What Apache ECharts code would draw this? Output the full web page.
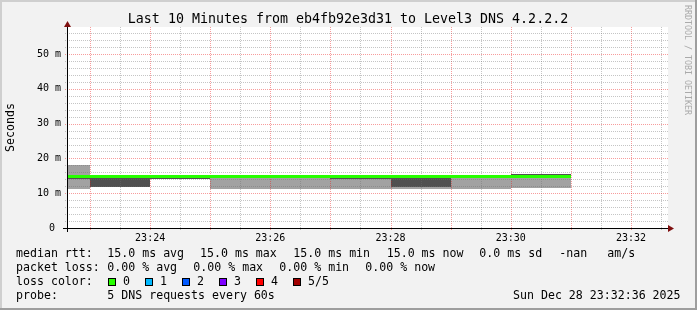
<!DOCTYPE html>
<html><head><meta charset="utf-8">
<script src="https://cdn.jsdelivr.net/npm/echarts@6/dist/echarts.min.js"></script>
<style>html,body{margin:0;padding:0;background:#f2f2f2}#c{width:697px;height:310px}</style>
</head><body><div id="c"></div>
<script>
// ---------- data ----------
const TITLE = 'Last 10 Minutes from eb4fb92e3d31 to Level3 DNS 4.2.2.2';
const T_START = 84157;  // 23:22:37 (seconds of day)
const T_END = 84757;    // 23:32:37
const Y_MAX = 57.8;     // ms
// 60 s smokeping steps
const stepStart = [84120, 84180, 84240, 84300, 84360, 84420, 84480, 84540, 84600];
const stepEnd   = [84180, 84240, 84300, 84360, 84420, 84480, 84540, 84600, 84660];
// outer smoke band (ms)
const smokeLow  = [11.1, 11.7, 14.1, 11.1, 11.1, 11.1, 11.1, 11.1, 11.5];
const smokeHigh = [18.2, 14.4, 14.4, 14.4, 14.4, 14.4, 14.4, 14.5, 15.25];
// inner (dark) smoke band (ms)
const coreLow   = [14.1, 11.7, 14.1, 14.4, 14.4, 14.1, 11.7, 14.5, 15.25];
const coreHigh  = [14.4, 14.4, 14.4, 14.4, 14.4, 14.4, 14.4, 14.5, 15.6];
// median rtt (ms)
const medianRtt = [14.82, 14.82, 14.82, 14.82, 14.82, 14.82, 14.82, 14.82, 14.82];

// axes / ticks
const yTickValues = [0, 10, 20, 30, 40, 50];
const yTickLabels = ['0 ', '10 m', '20 m', '30 m', '40 m', '50 m'];
const yMinorValues = [2,4,6,8,12,14,16,18,22,24,26,28,32,34,36,38,42,44,46,48,52,54,56];
const xMajorTimes = [84180, 84240, 84300, 84360, 84420, 84480, 84540, 84600, 84660, 84720];
const xMinorTimes = [84210, 84270, 84330, 84390, 84450, 84510, 84570, 84630, 84690, 84750];
const xLabelTimes = [84240, 84360, 84480, 84600, 84720];
const xLabelTexts = ['23:24', '23:26', '23:28', '23:30', '23:32'];

// legend
const rttStats  = ['15.0 ms avg', '15.0 ms max', '15.0 ms min', '15.0 ms now', '0.0 ms sd', '-nan', 'am/s'];
const lossStats = ['0.00 % avg', '0.00 % max', '0.00 % min', '0.00 % now'];
const lossLabels = ['0', '1', '2', '3', '4', '5/5'];
const lossColors = ['#26ff00', '#00b8ff', '#0059ff', '#7e00ff', '#ff0000', '#a10000'];
const probeText = '5 DNS requests every 60s';
const stampText = 'Sun Dec 28 23:32:36 2025';

// ---------- styling ----------
const FONT = '"DejaVu Sans Mono", monospace';
const SMOKE_LIGHT = '#a2a2a2';
const SMOKE_DARK = '#505050';
const MINOR_GRID = 'rgba(110,110,110,0.4)';
const MAJOR_GRID = 'rgba(235,20,20,0.42)';

const chart = echarts.init(document.getElementById('c'), null, {renderer: 'canvas', width: 697, height: 310});

function clampT(t) { return Math.min(T_END, Math.max(T_START, t)); }
const empty = () => ({type: 'group', children: []});

function bandRender(color) {
  return function (params, api) {
    const t0 = clampT(api.value(0)), t1 = clampT(api.value(1));
    const lo = api.value(2), hi = api.value(3);
    if (!(hi > lo) || !(t1 > t0)) return empty();
    const p0 = api.coord([t0, hi]), p1 = api.coord([t1, lo]);
    const x0 = Math.round(p0[0]), x1 = Math.round(p1[0]);
    const y0 = Math.round(p0[1]), y1 = Math.round(p1[1]);
    return {type: 'rect', shape: {x: x0, y: y0, width: x1 - x0, height: Math.max(1, y1 - y0)}, style: {fill: color}};
  };
}
function medianRender(params, api) {
  const t0 = clampT(api.value(0)), t1 = clampT(api.value(1)), m = api.value(2);
  const p0 = api.coord([t0, m]), p1 = api.coord([t1, m]);
  const x0 = Math.round(p0[0]), x1 = Math.round(p1[0]);
  return {type: 'rect', shape: {x: x0, y: Math.round(p0[1] - 1.5), width: x1 - x0, height: 3}, style: {fill: lossColors[0]}};
}
// dotted grid lines built from 1px dots
function vGridRender(color) {
  return function (params, api) {
    const t = api.value(0);
    const top = api.coord([t, Y_MAX]), bot = api.coord([t, 0]);
    const x = Math.round(top[0]);
    const kids = [];
    for (let y = Math.round(top[1]); y <= Math.round(bot[1]) + 2; y += 2) {
      kids.push({type: 'rect', shape: {x: x, y: y, width: 1, height: 1}, style: {fill: color}});
    }
    return {type: 'group', children: kids};
  };
}
function hGridRender(color) {
  return function (params, api) {
    const v = api.value(1);
    const l = api.coord([T_START, v]), r = api.coord([T_END, v]);
    const y = Math.round(l[1]);
    const kids = [];
    for (let x = Math.round(l[0]) - 2; x <= Math.round(r[0]); x += 2) {
      kids.push({type: 'rect', shape: {x: x, y: y, width: 1, height: 1}, style: {fill: color}});
    }
    return {type: 'group', children: kids};
  };
}
function hhmm(v) {
  const i = xLabelTimes.indexOf(v);
  return i >= 0 ? xLabelTexts[i] : '';
}

const smokeData = stepStart.map((s, i) => [s, stepEnd[i], smokeLow[i], smokeHigh[i]]);
const coreData = stepStart.map((s, i) => [s, stepEnd[i], coreLow[i], coreHigh[i]]);
const medianData = stepStart.map((s, i) => [s, stepEnd[i], medianRtt[i]]);
const dimsBand = ['t0', 't1', 'lo', 'hi'];

const option = {
  animation: false,
  backgroundColor: '#f2f2f2',
  grid: {left: 67, right: 29, top: 27, bottom: 82, show: true, backgroundColor: '#ffffff', borderWidth: 0},
  xAxis: {
    type: 'value', min: T_START, max: T_END,
    axisLine: {show: false}, axisTick: {show: false}, splitLine: {show: false},
    axisLabel: {customValues: xLabelTimes, formatter: hhmm, fontFamily: FONT, fontSize: 10, color: '#000', margin: 5}
  },
  yAxis: {
    type: 'value', min: 0, max: Y_MAX, interval: 10,
    axisLine: {show: false}, axisTick: {show: false}, splitLine: {show: false},
    axisLabel: {
      customValues: yTickValues,
      formatter: v => { const i = yTickValues.indexOf(v); return i >= 0 ? yTickLabels[i] : ''; },
      fontFamily: FONT, fontSize: 10, color: '#000', margin: 6
    }
  },
  series: [
    {type: 'custom', name: 'smoke', z: 1, renderItem: bandRender(SMOKE_LIGHT), data: smokeData, dimensions: dimsBand, encode: {x: [0, 1], y: [2, 3]}},
    {type: 'custom', name: 'smoke core', z: 2, renderItem: bandRender(SMOKE_DARK), data: coreData, dimensions: dimsBand, encode: {x: [0, 1], y: [2, 3]}},
    {type: 'custom', name: 'minor x grid', z: 3, silent: true, renderItem: vGridRender(MINOR_GRID), data: xMinorTimes.map(t => [t, 0])},
    {type: 'custom', name: 'major x grid', z: 3, silent: true, renderItem: vGridRender(MAJOR_GRID), data: xMajorTimes.map(t => [t, 0])},
    {type: 'custom', name: 'minor y grid', z: 3, silent: true, renderItem: hGridRender(MINOR_GRID), data: yMinorValues.map(v => [T_START, v])},
    {type: 'custom', name: 'major y grid', z: 3, silent: true, renderItem: hGridRender(MAJOR_GRID), data: yTickValues.filter(v => v > 0).map(v => [T_START, v])},
    {type: 'custom', name: 'median rtt', z: 4, renderItem: medianRender, data: medianData, encode: {x: [0, 1], y: 2}}
  ]
};
chart.setOption(option);

// ---------- decorations: axes, texts, legend ----------
const o = chart.convertToPixel({gridIndex: 0}, [T_START, 0]);
const tr = chart.convertToPixel({gridIndex: 0}, [T_END, Y_MAX]);
const ox = Math.round(o[0]), oy = Math.round(o[1]);
const rx = Math.round(tr[0]), ty = Math.round(tr[1]);
const ARROW = '#7f1010';
const g = [];
const txt = (text, x, y, size, extra) => Object.assign({type: 'text', x: x, y: y, z: 20, silent: true,
  style: Object.assign({text: text, font: size + 'px ' + FONT, fill: '#000', align: 'left', verticalAlign: 'middle'}, (extra && extra.style) || {})},
  extra && extra.el || {});

// border shading
g.push({type: 'rect', shape: {x: 0, y: 0, width: 697, height: 2}, style: {fill: '#cfcfcf'}, z: 20});
g.push({type: 'rect', shape: {x: 0, y: 0, width: 2, height: 310}, style: {fill: '#cfcfcf'}, z: 20});
g.push({type: 'rect', shape: {x: 0, y: 308, width: 697, height: 2}, style: {fill: '#9e9e9e'}, z: 20});
g.push({type: 'rect', shape: {x: 695, y: 0, width: 2, height: 310}, style: {fill: '#9e9e9e'}, z: 20});

// axes (filled rects for crisp 1px lines)
g.push({type: 'rect', z: 20, shape: {x: ox - 4, y: oy, width: rx - ox + 5, height: 1}, style: {fill: '#000'}});
g.push({type: 'rect', z: 20, shape: {x: ox, y: ty - 1, width: 1, height: oy - ty + 5}, style: {fill: '#000'}});
g.push({type: 'polygon', z: 21, shape: {points: [[rx, oy - 3], [rx + 6, oy + 0.5], [rx, oy + 4]]}, style: {fill: ARROW}});
g.push({type: 'polygon', z: 21, shape: {points: [[ox - 3, ty], [ox + 0.5, ty - 6], [ox + 4, ty]]}, style: {fill: ARROW}});

// title, unit, watermark
g.push(txt(TITLE, 348, 19.5, 13.3, {style: {align: 'center'}}));
g.push(txt('Seconds', 11, (oy + ty) / 2, 11.6, {style: {align: 'center'}, el: {rotation: Math.PI / 2}}));
g.push(txt('RRDTOOL / TOBI OETIKER', 687, 5, 8.3, {style: {fill: '#aaaaaa'}, el: {rotation: -Math.PI / 2}}));

// legend
const LF = 11.6;
const rows = [253.8, 267.8, 281.8, 296];
g.push(txt('median rtt:', 16, rows[0], LF));
[107.3, 200, 293.3, 386.7, 479.3, 559.3, 607.3].forEach((x, i) => g.push(txt(rttStats[i], x, rows[0], LF)));
g.push(txt('packet loss:', 16, rows[1], LF));
[107.3, 193.3, 279.3, 365.3].forEach((x, i) => g.push(txt(lossStats[i], x, rows[1], LF)));
g.push(txt('loss color:', 16, rows[2], LF));
[108, 145, 182, 219, 256, 293].forEach((x, i) => {
  g.push({type: 'rect', z: 20, shape: {x: x, y: 278, width: 8, height: 8}, style: {fill: '#000'}});
  g.push({type: 'rect', z: 21, shape: {x: x + 1, y: 279, width: 6, height: 6}, style: {fill: lossColors[i]}});
  g.push(txt(lossLabels[i], x + 15, rows[2], LF));
});
g.push(txt('probe:', 16, rows[3], LF));
g.push(txt(probeText, 107.3, rows[3], LF));
g.push(txt(stampText, 513, rows[3], LF));

chart.setOption({graphic: {elements: g}});
</script>
</body></html>
